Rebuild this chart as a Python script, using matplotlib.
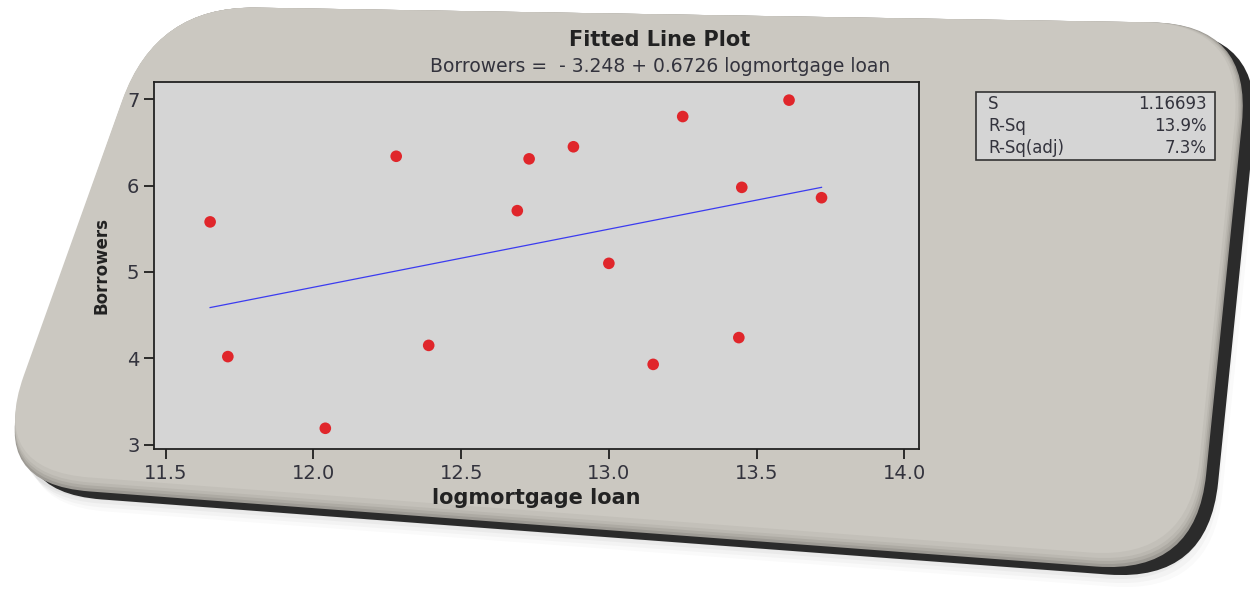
import numpy as np
import matplotlib
matplotlib.use("Agg")
import matplotlib.pyplot as plt
from matplotlib.path import Path
from matplotlib.patches import PathPatch, Rectangle

# data
loan = [11.71, 11.65, 12.04, 12.28, 12.39, 12.69, 12.73, 12.88,
        13.00, 13.15, 13.25, 13.44, 13.45, 13.61, 13.72]
borrowers = [4.02, 5.58, 3.19, 6.34, 4.15, 5.71, 6.31, 6.45,
             5.10, 3.93, 6.80, 4.24, 5.98, 6.99, 5.86]
coef = [-3.248, 0.6726]   # intercept, slope
x_ticks = [11.5, 12.0, 12.5, 13.0, 13.5, 14.0]
y_ticks = [3, 4, 5, 6, 7]
stat_names = ["S", "R-Sq", "R-Sq(adj)"]
stat_values = ["1.16693", "13.9%", "7.3%"]

W, H = 1250, 590
PANEL = "#cbc8c1"
PLOT_BG = "#d5d5d5"
TXT = "#33333d"


def rounded_poly(pts, r):
    # closed polygon with rounded corners (quadratic curves)
    pts = np.asarray(pts, float)
    n = len(pts)
    verts, codes = [], []
    for i in range(n):
        p = pts[i]
        a = pts[i - 1] - p
        b = pts[(i + 1) % n] - p
        s = p + a / np.linalg.norm(a) * r
        e = p + b / np.linalg.norm(b) * r
        verts += [s, p, e]
        codes += [Path.LINETO if i else Path.MOVETO, Path.CURVE3, Path.CURVE3]
    verts.append(verts[0])
    codes.append(Path.CLOSEPOLY)
    return Path(verts, codes)


def lifted(pts, d):
    # move the lower two corners up (and the right ones in) by d pixels
    (x0, y0), (x1, y1), (x2, y2), (x3, y3) = pts
    return [(x0, y0), (x1 - d * 0.5, y1), (x2 - d * 0.5, y2 - d), (x3, y3 - d)]


fig = plt.figure(figsize=(W / 100, H / 100), dpi=100)
fig.patch.set_facecolor("white")

# background layer in pixel coordinates
bg = fig.add_axes([0, 0, 1, 1])
bg.set_xlim(0, W)
bg.set_ylim(H, 0)
bg.axis("off")

corners = [(156, 6), (1252, 24), (1196, 574), (-10, 484)]

# soft shadow + dark rim
for k, a in enumerate([0.04, 0.06, 0.08, 0.10]):
    off = 20 - k * 4
    sh = [(x + off * 0.8, y + off) for x, y in corners]
    bg.add_patch(PathPatch(rounded_poly(sh, 100), fc="#888888", ec="none", alpha=a))
dark = [(x + 12, y + 8) for x, y in corners]
bg.add_patch(PathPatch(rounded_poly(dark, 100), fc="#2b2b2b", ec="none"))
bg.add_patch(PathPatch(rounded_poly(corners, 100), fc="#9d9a94", ec="none"))
# gradient towards the lower edge
for k, c in enumerate(["#adaaa3", "#bab7b0", "#c3c0b9"]):
    bg.add_patch(PathPatch(rounded_poly(lifted(corners, 3 + 3 * k), 100), fc=c, ec="none"))
bg.add_patch(PathPatch(rounded_poly(lifted(corners, 14), 100), fc=PANEL, ec="none"))

# titles
bg.text(660, 40, "Fitted Line Plot", ha="center", va="center",
        fontsize=15, fontweight="bold", color="#222222")
bg.text(660, 67, "Borrowers =  - %.3f + %.4f logmortgage loan" % (-coef[0], coef[1]),
        ha="center", va="center", fontsize=13.5, color=TXT)

# stats box
bg.add_patch(Rectangle((976, 92), 239, 68, fc=PLOT_BG, ec="#333333", lw=1.2))
for i, (name, val) in enumerate(zip(stat_names, stat_values)):
    yy = 104 + i * 22
    bg.text(988, yy, name, ha="left", va="center", fontsize=12, color=TXT)
    bg.text(1207, yy, val, ha="right", va="center", fontsize=12, color=TXT)

# main plot
ax = fig.add_axes([154 / W, 1 - 449 / H, 765 / W, 367 / H])
ax.set_facecolor(PLOT_BG)
ax.scatter(loan, borrowers, s=70, color="#e0262b", edgecolors="none", zorder=3)
xl = np.array([min(loan), max(loan)])
ax.plot(xl, coef[0] + coef[1] * xl, color="#3b3bf0", lw=0.9, zorder=2)

ax.set_xlim(11.46, 14.05)
ax.set_ylim(2.95, 7.2)
ax.set_xticks(x_ticks)
ax.set_xticklabels([f"{t:.1f}" for t in x_ticks])
ax.set_yticks(y_ticks)
ax.tick_params(direction="out", length=7, width=1.1, labelsize=14,
               labelcolor=TXT, top=False, right=False)
for sp in ax.spines.values():
    sp.set_linewidth(1.3)
    sp.set_color("#222222")
ax.set_xlabel("logmortgage loan", fontsize=15, fontweight="bold", color="#222222", labelpad=4)
ax.set_ylabel("Borrowers", fontsize=12, fontweight="bold", color="#222222", labelpad=12)

fig.savefig("out.png", dpi=100, facecolor="white")
